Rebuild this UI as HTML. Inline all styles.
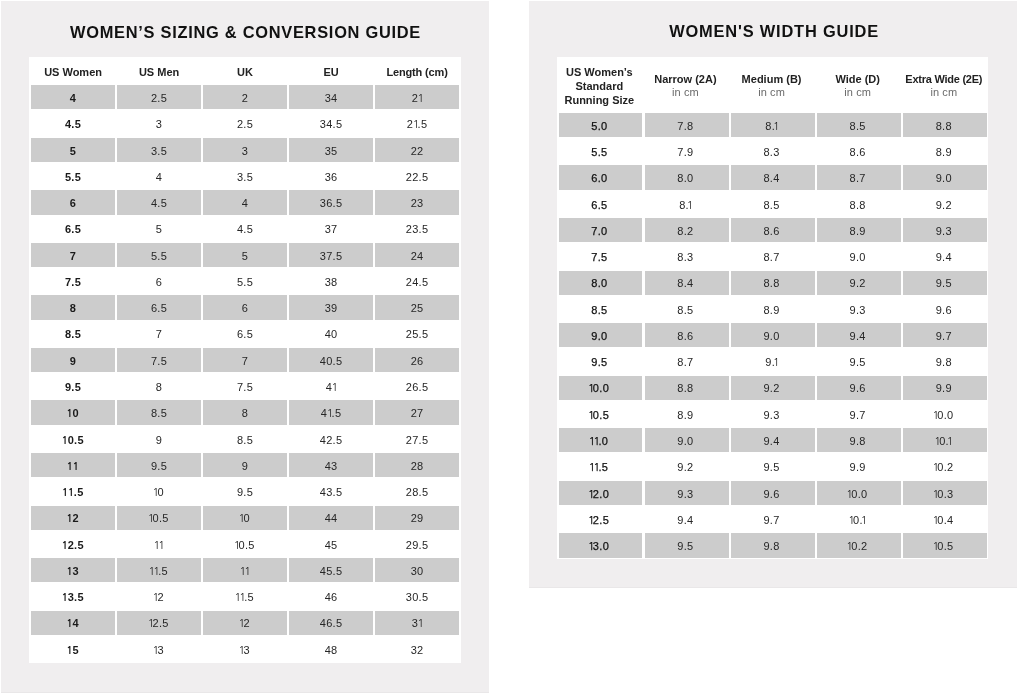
<!DOCTYPE html>
<html><head><meta charset="utf-8"><title>Women's Sizing & Width Guide</title>
<style>
*{margin:0;padding:0;box-sizing:border-box}
html,body{width:1018px;height:695px;background:#fff;overflow:hidden}
#w{position:absolute;left:0;top:0;width:1018px;height:695px;will-change:transform}
body{position:relative;-webkit-font-smoothing:antialiased;font-family:"Liberation Sans",Arial,sans-serif;color:#222}
.p{position:absolute;background:#f0eeef;box-shadow:inset 0 -1px 0 #e9e7e8}
.t{position:absolute;background:#fff}
.c{position:absolute;display:flex;align-items:center;justify-content:center;text-align:center;white-space:nowrap}
.g{background:#cccccc}
.d{font-size:11px;color:#262626;line-height:1;letter-spacing:0.3px;padding-top:2.4px}
.b{font-weight:bold;color:#1a1a1a}
.m{color:#111;-webkit-text-stroke:0.25px #111}
.h{font-size:11px;font-weight:bold;color:#222;line-height:13.9px;padding-top:4px}
.s{font-weight:normal;color:#6a6a6a;letter-spacing:0.1px;position:relative;top:-0.8px}
.r{padding-right:2.4px}
.o{font-family:NanumGothic,"Liberation Sans",sans-serif;letter-spacing:-1.8px}
.op{margin-left:-2.1px}
.od{margin-left:-0.5px}
.o1{margin-left:-0.1px}
.os{margin-left:-1.6px}
.b .o{letter-spacing:-0.5px}
.b .op,.b .od,.b .o1{margin-left:-0.2px}
.b .os{margin-left:-0.8px}

.ttl{position:absolute;font-size:16.4px;font-weight:bold;color:#111;white-space:nowrap;line-height:1;letter-spacing:0.6px}
</style></head><body>
<div id="w">
<div class="p" style="left:1px;top:1px;width:487.8px;height:692px"></div>
<div class="p" style="left:528.6px;top:1px;width:488.4px;height:586.8px"></div>
<div class="ttl" id="t1" style="left:70px;top:23.5px;letter-spacing:0.73px">WOMEN’S SIZING &amp; CONVERSION GUIDE</div>
<div class="ttl" id="t2" style="left:669.2px;top:22.8px;letter-spacing:0.82px">WOMEN'S WIDTH GUIDE</div>
<div class="t" style="left:28.9px;top:56.8px;width:432.1px;height:606.4px"></div>
<div class="c h" style="left:31.1px;top:59.1px;width:83.95px;height:23.8px"><div>US Women</div></div>
<div class="c h" style="left:117.1px;top:59.1px;width:83.95px;height:23.8px"><div>US Men</div></div>
<div class="c h" style="left:203.1px;top:59.1px;width:83.95px;height:23.8px"><div>UK</div></div>
<div class="c h" style="left:289.1px;top:59.1px;width:83.95px;height:23.8px"><div>EU</div></div>
<div class="c h" style="left:375.1px;top:59.1px;width:83.95px;height:23.8px"><div><span style="letter-spacing:-0.15px">Length (cm)</span></div></div>
<div class="c d g b" style="left:31.1px;top:85.2px;width:83.95px;height:24.3px">4</div>
<div class="c d g" style="left:117.1px;top:85.2px;width:83.95px;height:24.3px">2.5</div>
<div class="c d g" style="left:203.1px;top:85.2px;width:83.95px;height:24.3px">2</div>
<div class="c d g" style="left:289.1px;top:85.2px;width:83.95px;height:24.3px">34</div>
<div class="c d g" style="left:375.1px;top:85.2px;width:83.95px;height:24.3px">2<span class="o od">1</span></div>
<div class="c d b" style="left:31.1px;top:111.47px;width:83.95px;height:24.3px">4.5</div>
<div class="c d" style="left:117.1px;top:111.47px;width:83.95px;height:24.3px">3</div>
<div class="c d" style="left:203.1px;top:111.47px;width:83.95px;height:24.3px">2.5</div>
<div class="c d" style="left:289.1px;top:111.47px;width:83.95px;height:24.3px">34.5</div>
<div class="c d" style="left:375.1px;top:111.47px;width:83.95px;height:24.3px">2<span class="o od">1</span>.5</div>
<div class="c d g b" style="left:31.1px;top:137.74px;width:83.95px;height:24.3px">5</div>
<div class="c d g" style="left:117.1px;top:137.74px;width:83.95px;height:24.3px">3.5</div>
<div class="c d g" style="left:203.1px;top:137.74px;width:83.95px;height:24.3px">3</div>
<div class="c d g" style="left:289.1px;top:137.74px;width:83.95px;height:24.3px">35</div>
<div class="c d g" style="left:375.1px;top:137.74px;width:83.95px;height:24.3px">22</div>
<div class="c d b" style="left:31.1px;top:164.01px;width:83.95px;height:24.3px">5.5</div>
<div class="c d" style="left:117.1px;top:164.01px;width:83.95px;height:24.3px">4</div>
<div class="c d" style="left:203.1px;top:164.01px;width:83.95px;height:24.3px">3.5</div>
<div class="c d" style="left:289.1px;top:164.01px;width:83.95px;height:24.3px">36</div>
<div class="c d" style="left:375.1px;top:164.01px;width:83.95px;height:24.3px">22.5</div>
<div class="c d g b" style="left:31.1px;top:190.28px;width:83.95px;height:24.3px">6</div>
<div class="c d g" style="left:117.1px;top:190.28px;width:83.95px;height:24.3px">4.5</div>
<div class="c d g" style="left:203.1px;top:190.28px;width:83.95px;height:24.3px">4</div>
<div class="c d g" style="left:289.1px;top:190.28px;width:83.95px;height:24.3px">36.5</div>
<div class="c d g" style="left:375.1px;top:190.28px;width:83.95px;height:24.3px">23</div>
<div class="c d b" style="left:31.1px;top:216.55px;width:83.95px;height:24.3px">6.5</div>
<div class="c d" style="left:117.1px;top:216.55px;width:83.95px;height:24.3px">5</div>
<div class="c d" style="left:203.1px;top:216.55px;width:83.95px;height:24.3px">4.5</div>
<div class="c d" style="left:289.1px;top:216.55px;width:83.95px;height:24.3px">37</div>
<div class="c d" style="left:375.1px;top:216.55px;width:83.95px;height:24.3px">23.5</div>
<div class="c d g b" style="left:31.1px;top:242.82px;width:83.95px;height:24.3px">7</div>
<div class="c d g" style="left:117.1px;top:242.82px;width:83.95px;height:24.3px">5.5</div>
<div class="c d g" style="left:203.1px;top:242.82px;width:83.95px;height:24.3px">5</div>
<div class="c d g" style="left:289.1px;top:242.82px;width:83.95px;height:24.3px">37.5</div>
<div class="c d g" style="left:375.1px;top:242.82px;width:83.95px;height:24.3px">24</div>
<div class="c d b" style="left:31.1px;top:269.09px;width:83.95px;height:24.3px">7.5</div>
<div class="c d" style="left:117.1px;top:269.09px;width:83.95px;height:24.3px">6</div>
<div class="c d" style="left:203.1px;top:269.09px;width:83.95px;height:24.3px">5.5</div>
<div class="c d" style="left:289.1px;top:269.09px;width:83.95px;height:24.3px">38</div>
<div class="c d" style="left:375.1px;top:269.09px;width:83.95px;height:24.3px">24.5</div>
<div class="c d g b" style="left:31.1px;top:295.36px;width:83.95px;height:24.3px">8</div>
<div class="c d g" style="left:117.1px;top:295.36px;width:83.95px;height:24.3px">6.5</div>
<div class="c d g" style="left:203.1px;top:295.36px;width:83.95px;height:24.3px">6</div>
<div class="c d g" style="left:289.1px;top:295.36px;width:83.95px;height:24.3px">39</div>
<div class="c d g" style="left:375.1px;top:295.36px;width:83.95px;height:24.3px">25</div>
<div class="c d b" style="left:31.1px;top:321.63px;width:83.95px;height:24.3px">8.5</div>
<div class="c d" style="left:117.1px;top:321.63px;width:83.95px;height:24.3px">7</div>
<div class="c d" style="left:203.1px;top:321.63px;width:83.95px;height:24.3px">6.5</div>
<div class="c d" style="left:289.1px;top:321.63px;width:83.95px;height:24.3px">40</div>
<div class="c d" style="left:375.1px;top:321.63px;width:83.95px;height:24.3px">25.5</div>
<div class="c d g b" style="left:31.1px;top:347.9px;width:83.95px;height:24.3px">9</div>
<div class="c d g" style="left:117.1px;top:347.9px;width:83.95px;height:24.3px">7.5</div>
<div class="c d g" style="left:203.1px;top:347.9px;width:83.95px;height:24.3px">7</div>
<div class="c d g" style="left:289.1px;top:347.9px;width:83.95px;height:24.3px">40.5</div>
<div class="c d g" style="left:375.1px;top:347.9px;width:83.95px;height:24.3px">26</div>
<div class="c d b" style="left:31.1px;top:374.17px;width:83.95px;height:24.3px">9.5</div>
<div class="c d" style="left:117.1px;top:374.17px;width:83.95px;height:24.3px">8</div>
<div class="c d" style="left:203.1px;top:374.17px;width:83.95px;height:24.3px">7.5</div>
<div class="c d" style="left:289.1px;top:374.17px;width:83.95px;height:24.3px">4<span class="o od">1</span></div>
<div class="c d" style="left:375.1px;top:374.17px;width:83.95px;height:24.3px">26.5</div>
<div class="c d g b" style="left:31.1px;top:400.44px;width:83.95px;height:24.3px"><span class="o os">1</span>0</div>
<div class="c d g" style="left:117.1px;top:400.44px;width:83.95px;height:24.3px">8.5</div>
<div class="c d g" style="left:203.1px;top:400.44px;width:83.95px;height:24.3px">8</div>
<div class="c d g" style="left:289.1px;top:400.44px;width:83.95px;height:24.3px">4<span class="o od">1</span>.5</div>
<div class="c d g" style="left:375.1px;top:400.44px;width:83.95px;height:24.3px">27</div>
<div class="c d b" style="left:31.1px;top:426.71px;width:83.95px;height:24.3px"><span class="o os">1</span>0.5</div>
<div class="c d" style="left:117.1px;top:426.71px;width:83.95px;height:24.3px">9</div>
<div class="c d" style="left:203.1px;top:426.71px;width:83.95px;height:24.3px">8.5</div>
<div class="c d" style="left:289.1px;top:426.71px;width:83.95px;height:24.3px">42.5</div>
<div class="c d" style="left:375.1px;top:426.71px;width:83.95px;height:24.3px">27.5</div>
<div class="c d g b" style="left:31.1px;top:452.98px;width:83.95px;height:24.3px"><span class="o os">1</span><span class="o o1">1</span></div>
<div class="c d g" style="left:117.1px;top:452.98px;width:83.95px;height:24.3px">9.5</div>
<div class="c d g" style="left:203.1px;top:452.98px;width:83.95px;height:24.3px">9</div>
<div class="c d g" style="left:289.1px;top:452.98px;width:83.95px;height:24.3px">43</div>
<div class="c d g" style="left:375.1px;top:452.98px;width:83.95px;height:24.3px">28</div>
<div class="c d b" style="left:31.1px;top:479.25px;width:83.95px;height:24.3px"><span class="o os">1</span><span class="o o1">1</span>.5</div>
<div class="c d" style="left:117.1px;top:479.25px;width:83.95px;height:24.3px"><span class="o os">1</span>0</div>
<div class="c d" style="left:203.1px;top:479.25px;width:83.95px;height:24.3px">9.5</div>
<div class="c d" style="left:289.1px;top:479.25px;width:83.95px;height:24.3px">43.5</div>
<div class="c d" style="left:375.1px;top:479.25px;width:83.95px;height:24.3px">28.5</div>
<div class="c d g b" style="left:31.1px;top:505.52px;width:83.95px;height:24.3px"><span class="o os">1</span>2</div>
<div class="c d g" style="left:117.1px;top:505.52px;width:83.95px;height:24.3px"><span class="o os">1</span>0.5</div>
<div class="c d g" style="left:203.1px;top:505.52px;width:83.95px;height:24.3px"><span class="o os">1</span>0</div>
<div class="c d g" style="left:289.1px;top:505.52px;width:83.95px;height:24.3px">44</div>
<div class="c d g" style="left:375.1px;top:505.52px;width:83.95px;height:24.3px">29</div>
<div class="c d b" style="left:31.1px;top:531.79px;width:83.95px;height:24.3px"><span class="o os">1</span>2.5</div>
<div class="c d" style="left:117.1px;top:531.79px;width:83.95px;height:24.3px"><span class="o os">1</span><span class="o o1">1</span></div>
<div class="c d" style="left:203.1px;top:531.79px;width:83.95px;height:24.3px"><span class="o os">1</span>0.5</div>
<div class="c d" style="left:289.1px;top:531.79px;width:83.95px;height:24.3px">45</div>
<div class="c d" style="left:375.1px;top:531.79px;width:83.95px;height:24.3px">29.5</div>
<div class="c d g b" style="left:31.1px;top:558.06px;width:83.95px;height:24.3px"><span class="o os">1</span>3</div>
<div class="c d g" style="left:117.1px;top:558.06px;width:83.95px;height:24.3px"><span class="o os">1</span><span class="o o1">1</span>.5</div>
<div class="c d g" style="left:203.1px;top:558.06px;width:83.95px;height:24.3px"><span class="o os">1</span><span class="o o1">1</span></div>
<div class="c d g" style="left:289.1px;top:558.06px;width:83.95px;height:24.3px">45.5</div>
<div class="c d g" style="left:375.1px;top:558.06px;width:83.95px;height:24.3px">30</div>
<div class="c d b" style="left:31.1px;top:584.33px;width:83.95px;height:24.3px"><span class="o os">1</span>3.5</div>
<div class="c d" style="left:117.1px;top:584.33px;width:83.95px;height:24.3px"><span class="o os">1</span>2</div>
<div class="c d" style="left:203.1px;top:584.33px;width:83.95px;height:24.3px"><span class="o os">1</span><span class="o o1">1</span>.5</div>
<div class="c d" style="left:289.1px;top:584.33px;width:83.95px;height:24.3px">46</div>
<div class="c d" style="left:375.1px;top:584.33px;width:83.95px;height:24.3px">30.5</div>
<div class="c d g b" style="left:31.1px;top:610.6px;width:83.95px;height:24.3px"><span class="o os">1</span>4</div>
<div class="c d g" style="left:117.1px;top:610.6px;width:83.95px;height:24.3px"><span class="o os">1</span>2.5</div>
<div class="c d g" style="left:203.1px;top:610.6px;width:83.95px;height:24.3px"><span class="o os">1</span>2</div>
<div class="c d g" style="left:289.1px;top:610.6px;width:83.95px;height:24.3px">46.5</div>
<div class="c d g" style="left:375.1px;top:610.6px;width:83.95px;height:24.3px">3<span class="o od">1</span></div>
<div class="c d b" style="left:31.1px;top:636.87px;width:83.95px;height:24.3px"><span class="o os">1</span>5</div>
<div class="c d" style="left:117.1px;top:636.87px;width:83.95px;height:24.3px"><span class="o os">1</span>3</div>
<div class="c d" style="left:203.1px;top:636.87px;width:83.95px;height:24.3px"><span class="o os">1</span>3</div>
<div class="c d" style="left:289.1px;top:636.87px;width:83.95px;height:24.3px">48</div>
<div class="c d" style="left:375.1px;top:636.87px;width:83.95px;height:24.3px">32</div>
<div class="t" style="left:556.6px;top:56.9px;width:431.9px;height:501.7px"></div>
<div class="c h r" style="left:558.55px;top:59.2px;width:83.95px;height:51.4px"><div>US Women’s<br>Standard<br>Running Size</div></div>
<div class="c h r" style="left:644.67px;top:59.2px;width:83.95px;height:51.4px"><div>Narrow (2A)<br><span class="s">in cm</span></div></div>
<div class="c h r" style="left:730.79px;top:59.2px;width:83.95px;height:51.4px"><div>Medium (B)<br><span class="s">in cm</span></div></div>
<div class="c h r" style="left:816.91px;top:59.2px;width:83.95px;height:51.4px"><div>Wide (D)<br><span class="s">in cm</span></div></div>
<div class="c h r" style="left:903.03px;top:59.2px;width:83.95px;height:51.4px"><div><span style="letter-spacing:-0.24px">Extra Wide (2E)</span><br><span class="s">in cm</span></div></div>
<div class="c d g r m" style="left:558.55px;top:112.9px;width:83.95px;height:24.3px">5.0</div>
<div class="c d g r" style="left:644.67px;top:112.9px;width:83.95px;height:24.3px">7.8</div>
<div class="c d g r" style="left:730.79px;top:112.9px;width:83.95px;height:24.3px">8.<span class="o op">1</span></div>
<div class="c d g r" style="left:816.91px;top:112.9px;width:83.95px;height:24.3px">8.5</div>
<div class="c d g r" style="left:903.03px;top:112.9px;width:83.95px;height:24.3px">8.8</div>
<div class="c d r m" style="left:558.55px;top:139.17px;width:83.95px;height:24.3px">5.5</div>
<div class="c d r" style="left:644.67px;top:139.17px;width:83.95px;height:24.3px">7.9</div>
<div class="c d r" style="left:730.79px;top:139.17px;width:83.95px;height:24.3px">8.3</div>
<div class="c d r" style="left:816.91px;top:139.17px;width:83.95px;height:24.3px">8.6</div>
<div class="c d r" style="left:903.03px;top:139.17px;width:83.95px;height:24.3px">8.9</div>
<div class="c d g r m" style="left:558.55px;top:165.44px;width:83.95px;height:24.3px">6.0</div>
<div class="c d g r" style="left:644.67px;top:165.44px;width:83.95px;height:24.3px">8.0</div>
<div class="c d g r" style="left:730.79px;top:165.44px;width:83.95px;height:24.3px">8.4</div>
<div class="c d g r" style="left:816.91px;top:165.44px;width:83.95px;height:24.3px">8.7</div>
<div class="c d g r" style="left:903.03px;top:165.44px;width:83.95px;height:24.3px">9.0</div>
<div class="c d r m" style="left:558.55px;top:191.71px;width:83.95px;height:24.3px">6.5</div>
<div class="c d r" style="left:644.67px;top:191.71px;width:83.95px;height:24.3px">8.<span class="o op">1</span></div>
<div class="c d r" style="left:730.79px;top:191.71px;width:83.95px;height:24.3px">8.5</div>
<div class="c d r" style="left:816.91px;top:191.71px;width:83.95px;height:24.3px">8.8</div>
<div class="c d r" style="left:903.03px;top:191.71px;width:83.95px;height:24.3px">9.2</div>
<div class="c d g r m" style="left:558.55px;top:217.98px;width:83.95px;height:24.3px">7.0</div>
<div class="c d g r" style="left:644.67px;top:217.98px;width:83.95px;height:24.3px">8.2</div>
<div class="c d g r" style="left:730.79px;top:217.98px;width:83.95px;height:24.3px">8.6</div>
<div class="c d g r" style="left:816.91px;top:217.98px;width:83.95px;height:24.3px">8.9</div>
<div class="c d g r" style="left:903.03px;top:217.98px;width:83.95px;height:24.3px">9.3</div>
<div class="c d r m" style="left:558.55px;top:244.25px;width:83.95px;height:24.3px">7.5</div>
<div class="c d r" style="left:644.67px;top:244.25px;width:83.95px;height:24.3px">8.3</div>
<div class="c d r" style="left:730.79px;top:244.25px;width:83.95px;height:24.3px">8.7</div>
<div class="c d r" style="left:816.91px;top:244.25px;width:83.95px;height:24.3px">9.0</div>
<div class="c d r" style="left:903.03px;top:244.25px;width:83.95px;height:24.3px">9.4</div>
<div class="c d g r m" style="left:558.55px;top:270.52px;width:83.95px;height:24.3px">8.0</div>
<div class="c d g r" style="left:644.67px;top:270.52px;width:83.95px;height:24.3px">8.4</div>
<div class="c d g r" style="left:730.79px;top:270.52px;width:83.95px;height:24.3px">8.8</div>
<div class="c d g r" style="left:816.91px;top:270.52px;width:83.95px;height:24.3px">9.2</div>
<div class="c d g r" style="left:903.03px;top:270.52px;width:83.95px;height:24.3px">9.5</div>
<div class="c d r m" style="left:558.55px;top:296.79px;width:83.95px;height:24.3px">8.5</div>
<div class="c d r" style="left:644.67px;top:296.79px;width:83.95px;height:24.3px">8.5</div>
<div class="c d r" style="left:730.79px;top:296.79px;width:83.95px;height:24.3px">8.9</div>
<div class="c d r" style="left:816.91px;top:296.79px;width:83.95px;height:24.3px">9.3</div>
<div class="c d r" style="left:903.03px;top:296.79px;width:83.95px;height:24.3px">9.6</div>
<div class="c d g r m" style="left:558.55px;top:323.06px;width:83.95px;height:24.3px">9.0</div>
<div class="c d g r" style="left:644.67px;top:323.06px;width:83.95px;height:24.3px">8.6</div>
<div class="c d g r" style="left:730.79px;top:323.06px;width:83.95px;height:24.3px">9.0</div>
<div class="c d g r" style="left:816.91px;top:323.06px;width:83.95px;height:24.3px">9.4</div>
<div class="c d g r" style="left:903.03px;top:323.06px;width:83.95px;height:24.3px">9.7</div>
<div class="c d r m" style="left:558.55px;top:349.33px;width:83.95px;height:24.3px">9.5</div>
<div class="c d r" style="left:644.67px;top:349.33px;width:83.95px;height:24.3px">8.7</div>
<div class="c d r" style="left:730.79px;top:349.33px;width:83.95px;height:24.3px">9.<span class="o op">1</span></div>
<div class="c d r" style="left:816.91px;top:349.33px;width:83.95px;height:24.3px">9.5</div>
<div class="c d r" style="left:903.03px;top:349.33px;width:83.95px;height:24.3px">9.8</div>
<div class="c d g r m" style="left:558.55px;top:375.6px;width:83.95px;height:24.3px"><span class="o os">1</span>0.0</div>
<div class="c d g r" style="left:644.67px;top:375.6px;width:83.95px;height:24.3px">8.8</div>
<div class="c d g r" style="left:730.79px;top:375.6px;width:83.95px;height:24.3px">9.2</div>
<div class="c d g r" style="left:816.91px;top:375.6px;width:83.95px;height:24.3px">9.6</div>
<div class="c d g r" style="left:903.03px;top:375.6px;width:83.95px;height:24.3px">9.9</div>
<div class="c d r m" style="left:558.55px;top:401.87px;width:83.95px;height:24.3px"><span class="o os">1</span>0.5</div>
<div class="c d r" style="left:644.67px;top:401.87px;width:83.95px;height:24.3px">8.9</div>
<div class="c d r" style="left:730.79px;top:401.87px;width:83.95px;height:24.3px">9.3</div>
<div class="c d r" style="left:816.91px;top:401.87px;width:83.95px;height:24.3px">9.7</div>
<div class="c d r" style="left:903.03px;top:401.87px;width:83.95px;height:24.3px"><span class="o os">1</span>0.0</div>
<div class="c d g r m" style="left:558.55px;top:428.14px;width:83.95px;height:24.3px"><span class="o os">1</span><span class="o o1">1</span>.0</div>
<div class="c d g r" style="left:644.67px;top:428.14px;width:83.95px;height:24.3px">9.0</div>
<div class="c d g r" style="left:730.79px;top:428.14px;width:83.95px;height:24.3px">9.4</div>
<div class="c d g r" style="left:816.91px;top:428.14px;width:83.95px;height:24.3px">9.8</div>
<div class="c d g r" style="left:903.03px;top:428.14px;width:83.95px;height:24.3px"><span class="o os">1</span>0.<span class="o op">1</span></div>
<div class="c d r m" style="left:558.55px;top:454.41px;width:83.95px;height:24.3px"><span class="o os">1</span><span class="o o1">1</span>.5</div>
<div class="c d r" style="left:644.67px;top:454.41px;width:83.95px;height:24.3px">9.2</div>
<div class="c d r" style="left:730.79px;top:454.41px;width:83.95px;height:24.3px">9.5</div>
<div class="c d r" style="left:816.91px;top:454.41px;width:83.95px;height:24.3px">9.9</div>
<div class="c d r" style="left:903.03px;top:454.41px;width:83.95px;height:24.3px"><span class="o os">1</span>0.2</div>
<div class="c d g r m" style="left:558.55px;top:480.68px;width:83.95px;height:24.3px"><span class="o os">1</span>2.0</div>
<div class="c d g r" style="left:644.67px;top:480.68px;width:83.95px;height:24.3px">9.3</div>
<div class="c d g r" style="left:730.79px;top:480.68px;width:83.95px;height:24.3px">9.6</div>
<div class="c d g r" style="left:816.91px;top:480.68px;width:83.95px;height:24.3px"><span class="o os">1</span>0.0</div>
<div class="c d g r" style="left:903.03px;top:480.68px;width:83.95px;height:24.3px"><span class="o os">1</span>0.3</div>
<div class="c d r m" style="left:558.55px;top:506.95px;width:83.95px;height:24.3px"><span class="o os">1</span>2.5</div>
<div class="c d r" style="left:644.67px;top:506.95px;width:83.95px;height:24.3px">9.4</div>
<div class="c d r" style="left:730.79px;top:506.95px;width:83.95px;height:24.3px">9.7</div>
<div class="c d r" style="left:816.91px;top:506.95px;width:83.95px;height:24.3px"><span class="o os">1</span>0.<span class="o op">1</span></div>
<div class="c d r" style="left:903.03px;top:506.95px;width:83.95px;height:24.3px"><span class="o os">1</span>0.4</div>
<div class="c d g r m" style="left:558.55px;top:533.22px;width:83.95px;height:24.3px"><span class="o os">1</span>3.0</div>
<div class="c d g r" style="left:644.67px;top:533.22px;width:83.95px;height:24.3px">9.5</div>
<div class="c d g r" style="left:730.79px;top:533.22px;width:83.95px;height:24.3px">9.8</div>
<div class="c d g r" style="left:816.91px;top:533.22px;width:83.95px;height:24.3px"><span class="o os">1</span>0.2</div>
<div class="c d g r" style="left:903.03px;top:533.22px;width:83.95px;height:24.3px"><span class="o os">1</span>0.5</div>
</div></body></html>
